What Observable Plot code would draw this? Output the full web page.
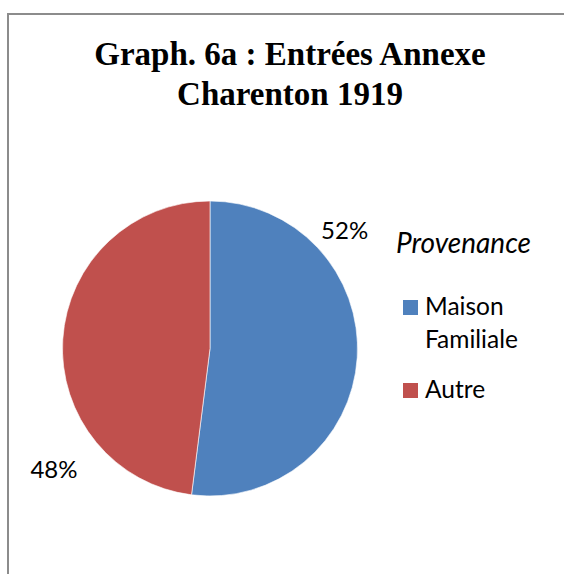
<!DOCTYPE html>
<html>
<head>
<meta charset="utf-8">
<script src="https://cdn.jsdelivr.net/npm/d3@7"></script>
<script src="https://cdn.jsdelivr.net/npm/@observablehq/plot@0.6"></script>
<style>
  html, body { margin: 0; padding: 0; background: #fff; }
  #wrap { position: relative; width: 564px; height: 574px; overflow: hidden; background: #fff; }
  #frame { position: absolute; left: 7px; top: 13px; width: 620px; height: 620px;
           border-top: 2px solid #8c8c8c; border-left: 2px solid #8c8c8c; }
  #title { position: absolute; left: 20px; width: 540px; top: 34px; text-align: center;
           font-family: "Liberation Serif", serif; font-weight: bold; font-size: 33px; line-height: 40px; color: #000; }
  #chart { position: absolute; left: 0; top: 0; }
  .lg { position: absolute; font-family: Lato, "Open Sans", sans-serif; color: #000; white-space: nowrap; }
  #lgTitle { left: 396px; top: 227px; font-size: 28px; font-style: italic; line-height: 30px; }
  .sw { position: absolute; width: 15px; height: 15px; }
  .lt { font-size: 24.5px; line-height: 33px; }
</style>
</head>
<body>
<div id="wrap">
  <div id="frame"></div>
  <div id="title"></div>
  <div id="chart"></div>
  <div id="legend"></div>
</div>
<script>
// ---- data ----
const chartTitle = ["Graph. 6a : Entrées Annexe", "Charenton 1919"];
const legendTitle = "Provenance";
const categories = ["Maison Familiale", "Autre"];
const legendLines = [["Maison", "Familiale"], ["Autre"]];
const values = [52, 48];
const percentLabels = ["52%", "48%"];

// ---- styles / layout ----
const palette = ["#4F81BD", "#C0504D"];
const labelAngleDeg = [48.7, 232.2];   // clockwise from 12 o'clock
const labelRadius = [1.21, 1.343];     // relative to pie radius

const data = categories.map((c, i) => ({category: c, value: values[i], label: percentLabels[i]}));
const pie = d3.pie().sort(null).value(d => d.value)(data);

const color = Plot.scale({color: {type: "ordinal", domain: categories, range: palette}});

const labelData = data.map((d, i) => {
  const a = labelAngleDeg[i] * Math.PI / 180;
  return {label: d.label, x: labelRadius[i] * Math.sin(a), y: labelRadius[i] * Math.cos(a)};
});

function pieMark(index, scales, vals, dims) {
  const cx = scales.x(0), cy = scales.y(0);
  const r = Math.abs(scales.x(1) - scales.x(0));
  const arc = d3.arc().innerRadius(0).outerRadius(r);
  const g = d3.create("svg:g").attr("transform", `translate(${cx},${cy})`);
  g.selectAll("path").data(pie).join("path")
    .attr("d", arc)
    .attr("fill", d => color.apply(d.data.category))
    .attr("stroke", "#ffffff")
    .attr("stroke-opacity", 0.6)
    .attr("stroke-width", 1);
  return g.node();
}

const plot = Plot.plot({
  width: 564,
  height: 574,
  marginLeft: 62.5,
  marginRight: 206.5,
  marginTop: 201,
  marginBottom: 78,
  x: {domain: [-1, 1], axis: null},
  y: {domain: [-1, 1], axis: null},
  style: {background: "transparent", overflow: "visible"},
  marks: [
    pieMark,
    Plot.text(labelData, {x: "x", y: "y", text: "label", fontSize: 24,
      fontFamily: "Lato, 'Open Sans', sans-serif", fill: "#000"})
  ]
});
document.getElementById("chart").appendChild(plot);

// title
document.getElementById("title").innerHTML = chartTitle.join("<br>");

// legend
const legend = document.getElementById("legend");
const lt = document.createElement("div");
lt.className = "lg"; lt.id = "lgTitle"; lt.textContent = legendTitle;
legend.appendChild(lt);
const itemTops = [289, 372];
const swTops = [300, 383];
categories.forEach((c, i) => {
  const sw = document.createElement("div");
  sw.className = "sw";
  sw.style.left = "403px"; sw.style.top = swTops[i] + "px";
  sw.style.background = color.apply(c);
  legend.appendChild(sw);
  const t = document.createElement("div");
  t.className = "lg lt";
  t.style.left = "425px"; t.style.top = itemTops[i] + "px";
  t.innerHTML = legendLines[i].join("<br>");
  legend.appendChild(t);
});
</script>
</body>
</html>
